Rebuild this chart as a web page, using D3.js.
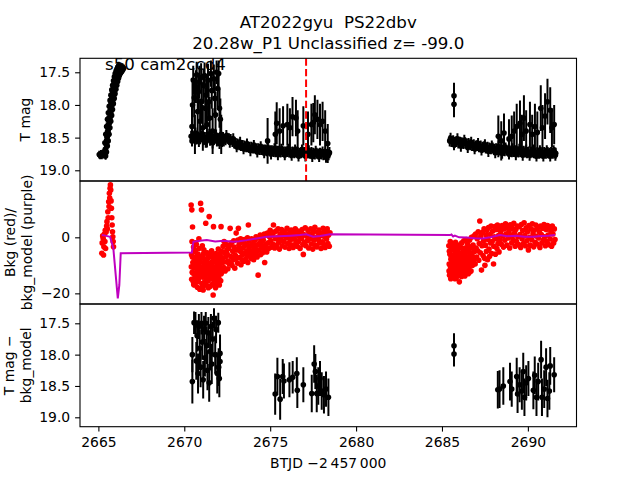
<!DOCTYPE html>
<html><head><meta charset="utf-8">
<script src="https://cdn.jsdelivr.net/npm/d3@7"></script>
<style>body{margin:0;background:#fff}svg{display:block}text{font-family:"DejaVu Sans",sans-serif;white-space:pre}</style>
</head><body><svg id="c" width="640" height="480"></svg>
<script>
// ---------- data ----------
const titleLines = ["AT2022gyu  PS22dbv", "20.28w_P1 Unclassified z= -99.0"];
const sectorLabel = "s50 cam2ccd4";
const xLabel = "BTJD \u22122\u2009457\u2009000";
const xTicks = [2665, 2670, 2675, 2680, 2685, 2690];
const y1Ticks = [17.5, 18.0, 18.5, 19.0];
const y2Ticks = [-20, 0];
const y3Ticks = [17.5, 18.0, 18.5, 19.0];
const markerTime = 2677.09;

// panel 1: dense light curve [t, mag]
const p1SegA = [[2665.05,18.76],[2665.10,18.77],[2665.15,18.75],[2665.20,18.77],[2665.25,18.74],[2665.30,18.76],[2665.35,18.72],[2665.40,18.68],[2665.45,18.60],[2665.50,18.50],[2665.55,18.40],[2665.60,18.30],[2665.65,18.21],[2665.70,18.12],[2665.75,18.04],[2665.80,17.96],[2665.85,17.88],[2665.90,17.81],[2665.95,17.74],[2666.00,17.68],[2666.05,17.63],[2666.10,17.58],[2666.15,17.54],[2666.20,17.50],[2666.25,17.47],[2666.30,17.45],[2666.35,17.43],[2666.40,17.42],
 [2665.42,18.78],[2665.47,18.72],[2665.52,18.63],[2665.57,18.55],[2665.62,18.45],[2665.67,18.35],[2665.72,18.25],[2665.77,18.16],[2665.82,18.07],[2665.87,17.98],[2665.92,17.90],[2665.97,17.83],[2666.02,17.76],[2666.07,17.70],[2666.12,17.64],[2666.17,17.59],[2666.22,17.55],[2666.27,17.52],[2666.32,17.50],[2666.37,17.48],[2666.42,17.46],[2666.47,17.44],
 [2665.38,18.58],[2665.43,18.45],[2665.48,18.33],[2665.53,18.22],[2665.58,18.12],[2665.63,18.02],[2665.68,17.93],[2665.73,17.85],[2665.78,17.77],[2665.83,17.70],[2665.88,17.63],[2665.93,17.57],[2665.98,17.52],[2666.03,17.48],[2666.08,17.45],[2666.13,17.42],[2666.18,17.40]];
const p1ErrA = 0.06;
const p1SegB = [[2670.4,18.48],[2670.5,18.50],[2670.6,18.47],[2670.7,18.52],[2670.8,18.49],[2670.9,18.51],[2671.0,18.48],[2671.1,18.53],[2671.2,18.50],[2671.3,18.52],[2671.4,18.49],[2671.5,18.54],[2671.6,18.51],[2671.7,18.53],[2671.8,18.50],[2671.9,18.55],[2672.0,18.52],[2672.1,18.54],[2672.2,18.56],[2672.3,18.55],[2672.4,18.53],[2672.5,18.51],[2672.6,18.52],[2672.7,18.53],[2672.8,18.56],[2672.9,18.58],[2673.0,18.59],[2673.1,18.60],[2673.2,18.61],[2673.3,18.62],[2673.4,18.62],[2673.5,18.63],[2673.6,18.64],[2673.7,18.64],[2673.8,18.65],[2673.9,18.65],[2674.0,18.66],[2674.1,18.66],[2674.2,18.67],[2674.3,18.67],[2674.4,18.68],[2674.5,18.68],[2674.6,18.69],[2674.7,18.69],[2674.8,18.70],[2674.9,18.69],[2675.0,18.70],[2675.1,18.70],[2675.2,18.71],[2675.3,18.70],[2675.4,18.71],[2675.5,18.71],[2675.6,18.72],[2675.7,18.71],[2675.8,18.72],[2675.9,18.72],[2676.0,18.71],[2676.1,18.72],[2676.2,18.73],[2676.3,18.72],[2676.4,18.73],[2676.5,18.72],[2676.6,18.73],[2676.7,18.74],[2676.8,18.73],[2676.9,18.72],[2677.0,18.73],[2677.1,18.74],[2677.2,18.73],[2677.3,18.74],[2677.4,18.73],[2677.5,18.74],[2677.6,18.75],[2677.7,18.74],[2677.8,18.75],[2677.9,18.74],[2678.0,18.75],[2678.1,18.76],[2678.2,18.75],[2678.3,18.76],[2678.4,18.76],
 [2670.45,18.55],[2670.65,18.43],[2670.85,18.56],[2671.05,18.44],[2671.25,18.57],[2671.45,18.45],[2671.65,18.58],[2671.85,18.46],[2672.05,18.59],[2672.25,18.50],[2672.45,18.47],[2672.65,18.57],[2672.85,18.52],[2673.05,18.64],[2673.25,18.57],[2673.45,18.67],[2673.65,18.60],[2673.85,18.70],[2674.05,18.62],[2674.25,18.72],[2674.45,18.64],[2674.65,18.73],[2674.85,18.66],[2675.05,18.75],[2675.25,18.67],[2675.45,18.76],[2675.65,18.68],[2675.85,18.76],[2676.05,18.68],[2676.25,18.77],[2676.45,18.69],[2676.65,18.78],[2676.85,18.69],[2677.05,18.78],[2677.25,18.70],[2677.45,18.79],[2677.65,18.71],[2677.85,18.79],[2678.05,18.72],[2678.25,18.80],[2678.45,18.73]];
const p1ErrB = 0.085;
const p1SegC = [[2685.45,18.55],[2685.55,18.56],[2685.65,18.55],[2685.75,18.57],[2685.85,18.56],[2685.95,18.58],[2686.05,18.57],[2686.15,18.58],[2686.25,18.59],[2686.35,18.58],[2686.45,18.60],[2686.55,18.59],[2686.65,18.61],[2686.75,18.62],[2686.85,18.61],[2686.95,18.63],[2687.05,18.62],[2687.15,18.64],[2687.25,18.63],[2687.35,18.65],[2687.45,18.64],[2687.55,18.66],[2687.65,18.65],[2687.75,18.66],[2687.85,18.67],[2687.95,18.66],[2688.05,18.68],[2688.15,18.67],[2688.25,18.68],[2688.35,18.69],[2688.45,18.68],[2688.55,18.69],[2688.65,18.70],[2688.75,18.69],[2688.85,18.70],[2688.95,18.71],[2689.05,18.70],[2689.15,18.71],[2689.25,18.70],[2689.35,18.71],[2689.45,18.72],[2689.55,18.71],[2689.65,18.72],[2689.75,18.71],[2689.85,18.72],[2689.95,18.73],[2690.05,18.72],[2690.15,18.73],[2690.25,18.72],[2690.35,18.73],[2690.45,18.74],[2690.55,18.73],[2690.65,18.74],[2690.75,18.73],[2690.85,18.74],[2690.95,18.73],[2691.05,18.74],[2691.15,18.73],[2691.25,18.74],[2691.35,18.73],[2691.45,18.74],[2691.55,18.73],[2691.62,18.74],
 [2685.50,18.51],[2685.70,18.61],[2685.90,18.52],[2686.10,18.63],[2686.30,18.54],[2686.50,18.65],[2686.70,18.57],[2686.90,18.67],[2687.10,18.59],[2687.30,18.69],[2687.50,18.61],[2687.70,18.71],[2687.90,18.63],[2688.10,18.73],[2688.30,18.64],[2688.50,18.74],[2688.70,18.66],[2688.90,18.75],[2689.10,18.67],[2689.30,18.76],[2689.50,18.68],[2689.70,18.77],[2689.90,18.69],[2690.10,18.77],[2690.30,18.69],[2690.50,18.78],[2690.70,18.70],[2690.90,18.78],[2691.10,18.70],[2691.30,18.78],[2691.50,18.70],[2691.60,18.77]];
const p1ErrC = 0.085;
// panel 1: noisy points [t, mag, err]
const p1Noisy = [[2670.45,18.33,0.30],[2670.48,18.00,0.35],[2670.52,17.62,0.22],[2670.58,17.89,0.30],[2670.62,18.45,0.30],[2670.68,17.72,0.25],[2670.72,17.54,0.20],[2670.78,18.10,0.35],[2670.82,17.80,0.28],[2670.88,17.65,0.25],[2670.92,18.25,0.35],[2670.98,17.58,0.22],[2671.02,17.95,0.30],[2671.08,18.35,0.35],[2671.12,17.70,0.25],[2671.18,17.55,0.20],[2671.22,18.05,0.32],[2671.28,17.85,0.30],[2671.32,18.30,0.35],[2671.38,17.62,0.25],[2671.42,17.95,0.30],[2671.48,18.20,0.32],[2671.55,17.52,0.20],[2671.60,17.78,0.28],[2671.65,18.40,0.35],[2671.72,17.60,0.22],[2671.78,17.90,0.30],[2671.82,18.15,0.35],[2671.88,17.50,0.18],[2671.95,17.75,0.28],[2672.00,17.52,0.20],[2672.05,18.05,0.30],[2672.10,18.22,0.32],[2672.15,18.45,0.30],
 [2674.85,18.55,0.35],[2675.30,18.45,0.35],[2675.38,18.28,0.32],[2675.55,18.40,0.35],[2675.75,18.32,0.30],[2676.00,18.30,0.32],[2676.15,18.35,0.30],[2676.30,18.18,0.30],[2676.50,18.20,0.28],[2676.60,18.40,0.32],[2676.93,18.32,0.30],[2677.20,18.45,0.35],[2677.40,18.30,0.32],[2677.51,18.27,0.30],[2677.60,18.15,0.30],[2677.75,18.22,0.30],[2677.90,18.30,0.32],[2678.05,18.25,0.30],[2678.20,18.40,0.32],[2678.35,18.59,0.30],
 [2685.70,17.86,0.20],[2685.70,17.99,0.20],
 [2688.28,18.48,0.32],[2688.45,18.55,0.30],[2688.61,18.43,0.30],[2688.90,18.52,0.30],[2689.06,18.48,0.32],[2689.20,18.40,0.30],[2689.35,18.33,0.35],[2689.54,18.28,0.35],[2689.65,18.45,0.30],[2689.77,18.20,0.35],[2689.90,18.40,0.32],[2690.12,18.30,0.35],[2690.25,18.45,0.30],[2690.41,18.33,0.35],[2690.55,18.42,0.32],[2690.75,18.05,0.35],[2690.85,18.35,0.35],[2691.00,18.17,0.35],[2691.14,17.95,0.35],[2691.30,18.08,0.35],[2691.40,18.35,0.30],[2691.53,18.30,0.30]];

// panel 2: background (red) [t, bkg]
const bkgA = [[2665.20,-5.7],[2665.22,-2.0],[2665.25,0.5],[2665.28,-0.4],[2665.30,-6.3],[2665.32,-3.4],[2665.35,1.2],[2665.38,-1.5],[2665.40,2.5],[2665.42,-4.0],[2665.45,1.9],[2665.48,4.0],[2665.50,5.6],[2665.52,3.0],[2665.55,9.1],[2665.57,7.0],[2665.60,12.7],[2665.62,11.0],[2665.64,15.7],[2665.66,14.0],[2665.68,17.5],[2665.70,18.7],[2665.72,16.9],[2665.74,13.0],[2665.76,10.4],[2665.78,7.0],[2665.80,4.4],[2665.82,2.0],[2665.84,0.2],[2665.86,-1.5],[2665.88,-3.4]];
const bkgB1 = [[2670.40,11.5],[2670.42,-6.2],[2670.44,9.8],[2670.46,-12.5],[2670.48,3.7],[2670.50,-9.0],[2670.52,-15.8],[2670.54,-3.5],[2670.56,-11.0],[2670.58,-17.0],[2670.60,-7.5],[2670.62,-13.8],[2670.64,-5.0],[2670.66,-16.2],[2670.68,-9.8],[2670.70,-2.5],[2670.72,-14.5],[2670.74,-8.2],[2670.76,-17.8],[2670.78,-11.5],[2670.80,-6.0],[2670.82,-15.0],[2670.84,-10.2],[2670.86,-4.0],[2670.88,-13.0],[2670.90,-18.5],[2670.92,-8.8],[2670.95,12.1],[2670.97,-12.0],[2671.00,9.8],[2671.02,-16.5],[2671.04,-6.8],[2671.06,-10.8],[2671.08,-14.2],[2671.10,-18.8],[2671.12,-9.2],[2671.14,-4.5],[2671.16,-12.8],[2671.18,-16.0],[2671.20,-7.8],[2671.22,-11.2],[2671.25,5.0],[2671.27,-14.8],[2671.29,-8.5],[2671.31,-17.2],[2671.33,-5.5],[2671.35,-12.2],[2671.37,-9.8],[2671.39,-15.5],[2671.41,-6.5],[2671.45,7.4],[2671.47,-13.5],[2671.49,-10.0],[2671.51,-17.5],[2671.53,-7.0],[2671.55,-12.0],[2671.57,-14.8],[2671.59,-4.8],[2671.61,-9.5],[2671.63,-16.8],[2671.65,-11.8],[2671.68,-20.6],[2671.70,3.8],[2671.72,-8.0],[2671.74,-13.2],[2671.76,-6.2],[2671.78,-15.2],[2671.80,-10.5],[2671.82,-18.0],[2671.84,-5.8],[2671.86,-12.5],[2671.88,-9.0],[2671.90,-14.0],[2671.92,-7.2],[2671.94,-16.5],[2671.96,-11.0],[2671.98,-4.2],[2672.00,-13.8],[2672.02,-8.6],[2672.04,-17.0],[2672.06,-10.5],[2672.08,-6.0],[2672.10,-12.0],[2672.12,-15.5],[2672.14,3.8],[2672.16,-9.0],[2672.18,-5.0],[2672.20,-11.5],
 [2670.41,-10.5],[2670.43,-15.0],[2670.47,-7.0],[2670.51,-12.8],[2670.55,-16.8],[2670.59,-4.5],[2670.63,-10.0],[2670.67,-13.2],[2670.71,-6.8],[2670.75,-12.0],[2670.79,-15.8],[2670.83,-8.0],[2670.87,-11.0],[2670.91,-14.0],[2670.99,-7.5],[2671.03,-12.5],[2671.07,-17.5],[2671.11,-6.0],[2671.15,-10.0],[2671.19,-13.5],[2671.23,-5.5],[2671.28,-11.5],[2671.32,-15.2],[2671.36,-7.5],[2671.40,-18.0],[2671.44,-10.5],[2671.48,-6.0],[2671.52,-14.0],[2671.56,-9.0],[2671.60,-12.5],[2671.64,-7.0],[2671.67,-15.0],[2671.71,-11.0],[2671.75,-17.0],[2671.79,-7.5],[2671.83,-13.5],[2671.87,-10.8],[2671.91,-16.0],[2671.95,-8.5],[2671.99,-12.5],[2672.03,-15.0],[2672.07,-9.5],[2672.11,-7.0],[2672.15,-13.0],[2672.19,-8.0],[2670.45,-1.5],[2670.65,-2.0],[2670.85,-0.5],[2671.05,-3.0]];
const bkgB2 = [[2672.22,-7.5],[2672.26,-3.2],[2672.30,-10.8],[2672.34,-5.5],[2672.38,-12.0],[2672.42,-2.5],[2672.46,-8.8],[2672.50,-6.0],[2672.54,-11.2],[2672.58,-4.0],[2672.62,-9.5],[2672.67,3.2],[2672.70,-6.8],[2672.74,-2.0],[2672.78,-10.0],[2672.82,-5.0],[2672.86,-8.0],[2672.90,-3.5],[2672.94,-11.0],[2672.98,-6.5],[2673.02,1.5],[2673.06,-4.5],[2673.10,-9.2],[2673.15,3.2],[2673.18,-2.8],[2673.22,-7.2],[2673.26,-5.0],[2673.30,-9.8],[2673.34,-1.8],[2673.38,-6.2],[2673.42,-3.8],[2673.46,-8.5],[2673.50,-0.8],[2673.54,-5.5],[2673.58,-7.8],[2673.62,-2.5],[2673.66,-4.8],[2673.70,-9.0],[2673.73,4.4],[2673.76,-1.2],[2673.80,-6.5],[2673.84,-3.0],[2673.88,-7.5],[2673.92,-0.5],[2673.96,-5.0],[2674.00,-2.2],[2674.04,-8.0],[2674.08,-4.0],[2674.12,-1.0],[2674.16,-6.0],[2674.20,-2.8],[2674.24,-7.0],[2674.30,-13.5],[2674.32,-0.2],[2674.36,-4.5],[2674.40,-2.0],[2674.44,-6.2],[2674.48,0.5],[2674.52,-3.5],[2674.56,-5.5],[2674.60,-1.0],[2674.64,-4.0],[2674.68,-9.0],[2674.72,0.8],[2674.76,-2.5],[2674.80,-5.2],
 [2672.24,-9.0],[2672.32,-1.5],[2672.40,-7.0],[2672.48,-4.5],[2672.56,-8.5],[2672.64,-2.8],[2672.72,-9.0],[2672.80,-7.2],[2672.88,-1.2],[2672.96,-4.5],[2673.04,-7.5],[2673.12,-1.0],[2673.20,-4.2],[2673.28,-0.5],[2673.36,-8.0],[2673.44,-1.2],[2673.52,-3.0],[2673.60,-6.0],[2673.68,-0.2],[2673.78,-3.8],[2673.86,-5.5],[2673.94,-2.5],[2674.02,-6.5],[2674.10,-3.0],[2674.18,0.2],[2674.26,-4.8],[2674.34,-2.5],[2674.42,0.8],[2674.50,-1.5],[2674.58,-3.0],[2674.66,1.2],[2674.74,-4.0]];
const bkgB3 = [[2674.84,1.5],[2674.88,-2.0],[2674.92,-4.0],[2674.96,0.2],[2675.00,2.5],[2675.04,-1.2],[2675.08,-3.5],[2675.12,0.8],[2675.16,-2.5],[2675.19,4.4],[2675.22,1.8],[2675.26,-3.8],[2675.30,-0.5],[2675.34,2.2],[2675.38,-2.8],[2675.42,0.0],[2675.46,3.0],[2675.50,-1.8],[2675.54,-4.2],[2675.58,1.2],[2675.62,-0.8],[2675.66,2.8],[2675.70,-3.0],[2675.74,0.5],[2675.78,-1.5],[2675.82,2.0],[2675.86,-3.5],[2675.90,1.0],[2675.94,-0.2],[2675.98,3.2],[2676.02,-2.2],[2676.06,0.6],[2676.10,-4.0],[2676.14,1.8],[2676.18,-1.0],[2676.22,2.6],[2676.26,-2.8],[2676.30,0.3],[2676.34,-3.6],[2676.38,1.4],[2676.42,-0.6],[2676.46,3.0],[2676.50,-2.0],[2676.54,0.9],[2676.58,-3.2],[2676.62,2.2],[2676.66,-1.4],[2676.70,0.2],[2676.74,-4.0],[2676.78,1.6],[2676.82,-0.4],[2676.86,2.8],[2676.90,-2.6],[2676.93,-6.1],[2676.96,1.0],[2677.00,-1.8],[2677.04,3.4],[2677.08,-3.0],[2677.12,0.4],[2677.16,-1.2],[2677.20,2.4],[2677.24,-3.8],[2677.28,1.2],[2677.32,-0.6],[2677.36,3.0],[2677.40,-2.4],[2677.44,0.8],[2677.48,-4.2],[2677.52,2.0],[2677.56,-1.0],[2677.60,3.6],[2677.64,-2.8],[2677.68,0.0],[2677.72,-3.4],[2677.76,1.8],[2677.80,-0.8],[2677.84,2.6],[2677.88,-2.0],[2677.92,0.6],[2677.96,-4.0],[2678.00,1.4],[2678.04,-1.6],[2678.08,3.2],[2678.12,-2.6],[2678.16,0.2],[2678.20,-3.6],[2678.24,2.0],[2678.28,-0.6],[2678.32,3.0],[2678.36,-2.2],[2678.40,0.8],[2678.44,-3.2],[2678.48,1.6]];
const bkgC1 = [[2685.40,-3.0],[2685.42,-9.5],[2685.44,-13.5],[2685.46,-6.0],[2685.48,-1.5],[2685.50,-11.0],[2685.52,-7.8],[2685.54,-4.0],[2685.57,-14.1],[2685.59,-9.0],[2685.61,-2.2],[2685.63,-12.0],[2685.65,-6.5],[2685.67,-10.5],[2685.69,-3.5],[2685.71,-13.0],[2685.73,-8.0],[2685.75,-5.0],[2685.77,-11.8],[2685.79,-1.8],[2685.81,-9.8],[2685.83,-14.5],[2685.85,-6.8],[2685.87,-4.2],[2685.89,-12.5],[2685.91,-8.5],[2685.93,-2.8],[2685.95,-10.8],[2685.97,-5.5],[2685.99,-13.2],[2686.01,-15.9],[2686.03,-7.5],[2686.05,-3.2],[2686.07,-11.5],[2686.09,-9.0],[2686.11,-5.8],[2686.13,-14.0],[2686.15,-2.0],[2686.17,-10.0],[2686.19,-7.0],[2686.21,-12.8],[2686.23,-4.5],[2686.25,-8.8],[2686.27,-1.2],[2686.29,-11.0],[2686.31,-6.2],[2686.33,-13.8],[2686.35,-3.8],[2686.37,-9.5],[2686.39,-7.2],[2686.41,-0.8],[2686.43,-12.2],[2686.45,-5.2],[2686.47,-10.2],[2686.49,-2.5],[2686.51,-8.0],[2686.53,-13.0],[2686.55,-4.8],[2686.57,-11.2],[2686.59,-6.8],[2686.61,-1.0],[2686.63,-9.2],[2686.66,-3.5],[2686.69,-12.0],[2686.72,0.0],[2686.75,-6.5],[2686.78,-10.0],[2686.81,-2.8],[2686.84,-8.2],[2686.87,0.5],[2686.90,-5.0],
 [2685.41,-12.0],[2685.43,-5.0],[2685.47,-10.0],[2685.51,-14.8],[2685.55,-7.0],[2685.60,-11.5],[2685.64,-4.5],[2685.68,-13.5],[2685.72,-9.5],[2685.76,-14.8],[2685.80,-6.2],[2685.84,-11.0],[2685.88,-7.8],[2685.92,-13.5],[2685.96,-4.0],[2686.00,-10.0],[2686.04,-12.5],[2686.08,-6.5],[2686.12,-10.5],[2686.16,-12.0],[2686.20,-4.0],[2686.24,-11.5],[2686.28,-7.8],[2686.32,-10.5],[2686.36,-5.5],[2686.40,-11.8],[2686.44,-8.5],[2686.48,-3.8],[2686.52,-10.8],[2686.56,-7.5],[2686.60,-12.5],[2686.64,-5.5],[2686.68,-8.8],[2686.74,-3.5],[2686.80,-7.0],[2686.86,-4.5]];
const bkgC2 = [[2686.93,-9.5],[2686.96,1.2],[2686.99,-3.8],[2687.02,-7.0],[2687.05,-0.5],[2687.08,-4.8],[2687.11,2.0],[2687.14,-8.2],[2687.17,-2.2],[2687.20,5.8],[2687.23,-5.5],[2687.26,0.5],[2687.30,-11.7],[2687.33,-3.0],[2687.36,1.8],[2687.39,-6.5],[2687.42,-1.2],[2687.45,3.0],[2687.48,-7.5],[2687.50,-10.0],[2687.53,-2.8],[2687.56,0.8],[2687.59,-5.0],[2687.62,2.5],[2687.65,-8.0],[2687.68,-0.8],[2687.71,3.5],[2687.74,-4.2],[2687.77,-6.8],[2687.80,1.0],[2687.83,-2.0],[2687.86,4.0],[2687.89,-5.8],[2687.92,-1.5],[2687.95,2.2],[2688.00,-9.5],[2688.02,-3.2],[2688.05,0.2],[2688.08,3.8],[2688.11,-6.0],[2688.14,-0.5],[2688.17,2.8],[2688.20,-4.0],[2688.23,4.4],[2688.26,-2.2],[2688.29,0.6],[2688.32,-5.2],[2688.35,3.2],[2688.38,-1.0]];
const bkgC3 = [[2688.42,2.0],[2688.46,-2.5],[2688.50,4.2],[2688.54,0.5],[2688.58,-3.5],[2688.62,3.0],[2688.66,-1.0],[2688.70,4.8],[2688.74,1.2],[2688.78,-2.8],[2688.82,3.6],[2688.86,-0.2],[2688.90,2.2],[2688.94,-3.8],[2688.98,4.5],[2689.02,0.8],[2689.06,-2.0],[2689.10,3.2],[2689.14,-0.8],[2689.18,5.0],[2689.22,1.5],[2689.26,-3.2],[2689.30,2.8],[2689.34,-1.5],[2689.38,4.0],[2689.42,0.2],[2689.46,-2.6],[2689.50,3.8],[2689.54,1.0],[2689.58,-3.6],[2689.62,4.6],[2689.66,-0.5],[2689.70,2.4],[2689.74,-2.2],[2689.78,5.2],[2689.82,0.6],[2689.86,-3.0],[2689.90,3.4],[2689.94,-1.2],[2689.98,2.0],[2690.03,-4.5],[2690.06,4.2],[2690.10,0.0],[2690.14,-2.8],[2690.18,3.0],[2690.22,-0.8],[2690.26,4.8],[2690.30,1.4],[2690.34,-3.4],[2690.38,2.6],[2690.42,-1.8],[2690.46,4.4],[2690.50,0.4],[2690.54,-2.4],[2690.58,3.6],[2690.62,-0.2],[2690.66,2.0],[2690.70,-3.6],[2690.74,4.0],[2690.78,1.0],[2690.82,-2.0],[2690.86,3.2],[2690.90,-1.0],[2690.94,4.6],[2690.98,0.2],[2691.02,-3.0],[2691.06,2.8],[2691.10,-1.4],[2691.14,4.2],[2691.18,0.8],[2691.22,-2.6],[2691.26,3.4],[2691.30,-0.6],[2691.34,2.2],[2691.38,-3.2],[2691.42,4.0],[2691.46,1.2],[2691.50,-2.0],[2691.54,3.0],[2691.58,-0.8]];
// panel 2: background model (purple) [t, value]
const bkgModel = [[2665.20,0.8],[2665.40,0.6],[2665.68,0.2],[2665.87,-3.9],[2666.13,-21.8],[2666.22,-17.0],[2666.30,-5.7],[2670.44,-5.4],[2670.53,-1.6],[2670.90,-1.2],[2671.31,-1.0],[2671.80,-1.5],[2672.30,-1.2],[2672.84,-1.6],[2673.20,-1.4],[2673.64,-1.0],[2674.20,-0.4],[2674.80,0.2],[2675.50,0.4],[2676.20,0.6],[2676.74,0.8],[2677.10,1.1],[2677.50,0.2],[2677.91,0.5],[2678.49,1.1],[2685.47,0.8],[2685.55,1.0],[2685.65,0.3],[2685.75,0.6],[2686.00,0.0],[2686.44,-0.1],[2686.90,-0.3],[2687.39,-0.4],[2687.80,0.0],[2688.38,0.8],[2688.80,0.4],[2689.30,0.6],[2689.80,0.2],[2690.30,0.2],[2690.80,0.5],[2691.20,0.6],[2691.58,0.8]];

// panel 3: T mag - bkg_model [t, mag, err]
const p3Pts = [[2670.47,18.00,0.28],[2670.47,18.43,0.35],[2670.57,17.49,0.18],[2670.65,17.50,0.18],[2670.70,18.10,0.30],[2670.75,17.70,0.25],[2670.80,18.30,0.32],[2670.85,17.55,0.20],[2670.90,17.90,0.30],[2670.95,18.20,0.32],[2671.00,17.50,0.18],[2671.05,17.80,0.28],[2671.10,18.40,0.30],[2671.15,17.60,0.22],[2671.20,18.05,0.30],[2671.25,17.50,0.18],[2671.30,17.85,0.30],[2671.35,18.25,0.32],[2671.40,17.65,0.25],[2671.45,18.45,0.30],[2671.50,17.95,0.30],[2671.55,17.55,0.20],[2671.60,18.15,0.32],[2671.65,17.75,0.28],[2671.73,17.42,0.16],[2671.80,18.00,0.30],[2671.85,17.60,0.22],[2671.92,18.30,0.32],[2671.98,17.49,0.16],[2672.04,18.38,0.30],[2672.08,17.98,0.30],[2672.08,18.11,0.30],[2672.00,18.20,0.30],
 [2675.29,18.63,0.33],[2675.42,18.35,0.30],[2675.58,18.71,0.33],[2675.73,18.35,0.28],[2675.80,18.42,0.28],[2676.12,18.40,0.28],[2676.31,18.36,0.26],[2676.55,18.30,0.26],[2676.58,18.57,0.28],[2676.93,18.48,0.28],[2677.42,18.62,0.30],[2677.56,18.15,0.30],[2677.63,18.27,0.28],[2677.71,18.62,0.30],[2677.80,18.50,0.30],[2677.90,18.38,0.28],[2678.00,18.58,0.30],[2678.13,18.64,0.30],[2678.25,18.55,0.28],[2678.39,18.68,0.30],
 [2685.70,17.86,0.20],[2685.70,17.99,0.20],
 [2688.25,18.56,0.30],[2688.35,18.55,0.30],[2688.57,18.50,0.30],[2688.96,18.43,0.30],[2689.06,18.55,0.28],[2689.35,18.35,0.30],[2689.40,18.63,0.30],[2689.52,18.48,0.28],[2689.65,18.58,0.30],[2689.73,18.27,0.30],[2689.80,18.68,0.30],[2689.90,18.45,0.28],[2690.03,18.38,0.28],[2690.32,18.57,0.30],[2690.40,18.33,0.30],[2690.50,18.68,0.30],[2690.60,18.43,0.30],[2690.77,18.08,0.30],[2690.82,18.68,0.30],[2690.95,18.55,0.30],[2691.06,18.20,0.30],[2691.14,18.70,0.30],[2691.25,18.58,0.30],[2691.30,18.18,0.30],[2691.53,18.32,0.28]];

// ---------- layout ----------
const svg = d3.select("#c");
const L = 80, R = 576.5;
const P = [{top:58.3,bot:181},{top:181,bot:304},{top:304,bot:426.7}];
const x = d3.scaleLinear().domain([2663.93, 2692.83]).range([L, R]);
const y1 = d3.scaleLinear().domain([17.286, 19.164]).range([P[0].top, P[0].bot]);
const y2 = d3.scaleLinear().domain([20.1, -23.8]).range([P[1].top, P[1].bot]);
const y3 = d3.scaleLinear().domain([17.192, 19.15]).range([P[2].top, P[2].bot]);
const FS = 13.9, TFS = 16.67;
const MR = 2.8;

const defs = svg.append("defs");
P.forEach((p,i)=>{
  defs.append("clipPath").attr("id","clip"+i).append("rect")
    .attr("x",L).attr("y",p.top).attr("width",R-L).attr("height",p.bot-p.top);
});

function errPts(g, pts, y, errFn, color){
  g.selectAll(null).data(pts).enter().append("line")
    .attr("x1",d=>x(d[0])).attr("x2",d=>x(d[0]))
    .attr("y1",d=>y(d[1]-errFn(d))).attr("y2",d=>y(d[1]+errFn(d)))
    .attr("stroke",color).attr("stroke-width",2);
  g.selectAll(null).data(pts).enter().append("circle")
    .attr("cx",d=>x(d[0])).attr("cy",d=>y(d[1])).attr("r",MR).attr("fill",color);
}

// panel 1
const g1 = svg.append("g").attr("clip-path","url(#clip0)");
errPts(g1, p1SegA, y1, ()=>p1ErrA, "#000");
errPts(g1, p1SegB, y1, ()=>p1ErrB, "#000");
errPts(g1, p1SegC, y1, ()=>p1ErrC, "#000");
errPts(g1, p1Noisy, y1, d=>d[2], "#000");
g1.append("line").attr("x1",x(markerTime)).attr("x2",x(markerTime))
  .attr("y1",P[0].top).attr("y2",P[0].bot)
  .attr("stroke","#ff0000").attr("stroke-width",2).attr("stroke-dasharray","7.4,3.2");

// panel 2
const g2 = svg.append("g").attr("clip-path","url(#clip1)");
[bkgA,bkgB1,bkgB2,bkgB3,bkgC1,bkgC2,bkgC3].forEach(arr=>{
  g2.selectAll(null).data(arr).enter().append("circle")
    .attr("cx",d=>x(d[0])).attr("cy",d=>y2(d[1])).attr("r",MR).attr("fill","#ff0000");
});
g2.append("path").datum(bkgModel)
  .attr("d",d3.line().x(d=>x(d[0])).y(d=>y2(d[1])))
  .attr("fill","none").attr("stroke","#bf00bf").attr("stroke-width",2);

// panel 3
const g3 = svg.append("g").attr("clip-path","url(#clip2)");
errPts(g3, p3Pts, y3, d=>d[2], "#000");

// frames and axes
P.forEach(p=>{
  svg.append("rect").attr("x",L).attr("y",p.top).attr("width",R-L).attr("height",p.bot-p.top)
    .attr("fill","none").attr("stroke","#000").attr("stroke-width",1.1);
});
function styleAxis(g){
  g.select(".domain").remove();
  g.selectAll(".tick line").attr("stroke","#000").attr("stroke-width",1.1);
  g.selectAll(".tick text").attr("font-size",FS).attr("font-family","DejaVu Sans").attr("fill","#000");
}
const fmt1 = d3.format(".1f");
svg.append("g").attr("transform",`translate(${L},0)`)
  .call(d3.axisLeft(y1).tickValues(y1Ticks).tickFormat(fmt1).tickSize(4.9).tickPadding(4.9)).call(styleAxis);
svg.append("g").attr("transform",`translate(${L},0)`)
  .call(d3.axisLeft(y2).tickValues(y2Ticks).tickFormat(d3.format("d")).tickSize(4.9).tickPadding(4.9)).call(styleAxis);
svg.append("g").attr("transform",`translate(${L},0)`)
  .call(d3.axisLeft(y3).tickValues(y3Ticks).tickFormat(fmt1).tickSize(4.9).tickPadding(4.9)).call(styleAxis);
svg.append("g").attr("transform",`translate(0,${P[2].bot})`)
  .call(d3.axisBottom(x).tickValues(xTicks).tickFormat(d3.format("d")).tickSize(4.9).tickPadding(5.5)).call(styleAxis);

// texts
const cx = (L+R)/2;
svg.append("text").attr("x",cx).attr("y",28).attr("text-anchor","middle").attr("font-size",TFS).text(titleLines[0]);
svg.append("text").attr("x",cx).attr("y",48.5).attr("text-anchor","middle").attr("font-size",TFS).text(titleLines[1]);
svg.append("text").attr("x",105).attr("y",70).attr("font-size",TFS).text(sectorLabel);
svg.append("text").attr("x",cx).attr("y",468).attr("text-anchor","middle").attr("font-size",FS).text(xLabel);
function ylab(xp, yc, t){
  svg.append("text").attr("transform",`translate(${xp},${yc}) rotate(-90)`)
    .attr("text-anchor","middle").attr("font-size",FS).text(t);
}
const c1=(P[0].top+P[0].bot)/2, c2=(P[1].top+P[1].bot)/2, c3=(P[2].top+P[2].bot)/2;
ylab(30, c1, "T mag");
ylab(15.3, c2, "Bkg (red)/");
ylab(32, c2, "bkg_model (purple)");
ylab(14, c3, "T mag \u2212");
ylab(31, c3, "bkg_model");
</script></body></html>
